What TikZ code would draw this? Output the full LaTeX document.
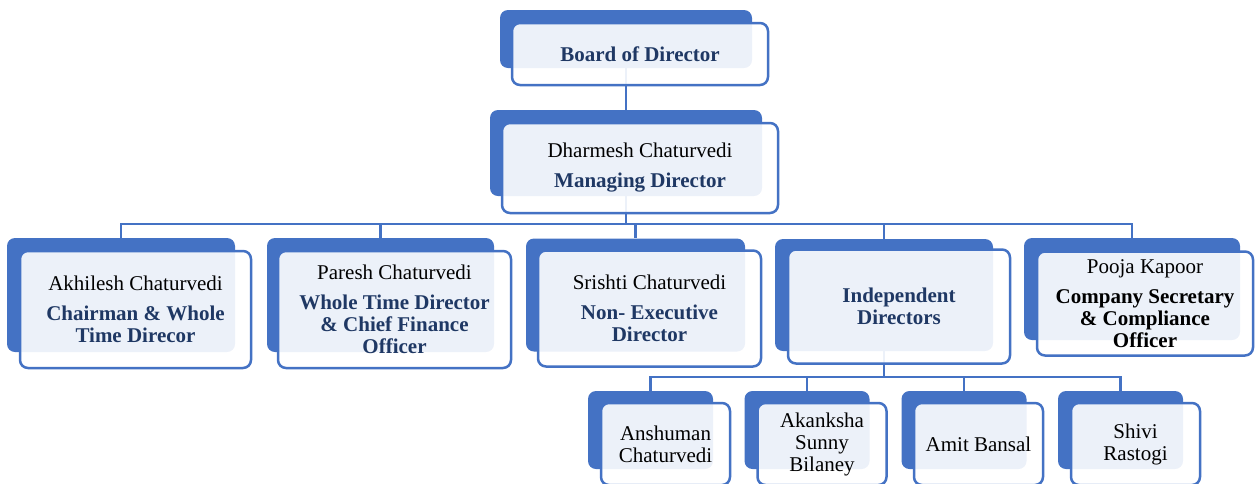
\documentclass[tikz,border=0pt]{standalone}
\usepackage{fontspec}
\setmainfont{Liberation Serif}
\usetikzlibrary{backgrounds}
\definecolor{boxblue}{HTML}{4472C4}
\definecolor{navy}{HTML}{1F3864}
\newcommand{\role}[1]{\textcolor{navy}{\textbf{#1}}}

\begin{document}
\begin{tikzpicture}[x=1pt, y=-1pt]

	\tikzstyle{back}=[rectangle, rounded corners=8pt, fill=boxblue, inner sep=0pt]
	\tikzstyle{front}=[rectangle, rounded corners=8pt, draw=boxblue, line width=2.5pt, fill=white, fill opacity=0.9, text opacity=1, inner sep=0pt, align=center, font=\fontsize{21}{22}\selectfont]
	\tikzstyle{link}=[boxblue, line width=2.5pt]

	\useasboundingbox (0, 0) rectangle (1255, 483);
	\clip (0, 0) rectangle (1255, 483);

	\coordinate (s_1_1) at (626, 39); % BOARD
	\coordinate (f_1_1) at (640, 54); % BOARD
	\coordinate (s_2_1) at (626, 153); % MD
	\coordinate (f_2_1) at (640, 168); % MD
	\coordinate (s_3_1) at (121, 295); % LEVEL 2
	\coordinate (s_3_2) at (380.5, 295); % LEVEL 2
	\coordinate (s_3_3) at (635.5, 295); % LEVEL 2
	\coordinate (s_3_4) at (884, 295); % LEVEL 2
	\coordinate (s_3_5) at (1132, 289); % LEVEL 2
	\coordinate (f_3_1) at (135.5, 309.5); % LEVEL 2
	\coordinate (f_3_2) at (394.5, 309.5); % LEVEL 2
	\coordinate (f_3_3) at (649.5, 308.5); % LEVEL 2
	\coordinate (f_3_4) at (899, 306.5); % LEVEL 2
	\coordinate (f_3_5) at (1145, 303.5); % LEVEL 2
	\coordinate (s_4_1) at (650.5, 430); % INDEPENDENT
	\coordinate (s_4_2) at (807, 430); % INDEPENDENT
	\coordinate (s_4_3) at (964, 430); % INDEPENDENT
	\coordinate (s_4_4) at (1120.5, 430); % INDEPENDENT
	\coordinate (f_4_1) at (665.5, 444); % INDEPENDENT
	\coordinate (f_4_2) at (822, 444); % INDEPENDENT
	\coordinate (f_4_3) at (978.5, 444); % INDEPENDENT
	\coordinate (f_4_4) at (1135.5, 444); % INDEPENDENT
	\coordinate (bus_1) at (626, 224);
	\coordinate (bus_2) at (884, 377);

	\node[back, minimum width=252, minimum height=58] (s_1_1) at (s_1_1) {};
	\node[front, minimum width=256, minimum height=62] (f_1_1) at (f_1_1) {\role{Board of Director}};
	\node[back, minimum width=272, minimum height=86] (s_2_1) at (s_2_1) {};
	\node[front, minimum width=276, minimum height=90] (f_2_1) at (f_2_1) {Dharmesh Chaturvedi\\[8pt]\role{Managing Director}};

	\node[back, minimum width=228, minimum height=114] (s_3_1) at (s_3_1) {};
	\node[front, minimum width=231, minimum height=117] (f_3_1) at (f_3_1) {Akhilesh Chaturvedi\\[8pt]\role{Chairman \& Whole}\\\role{Time Direcor}};
	\node[back, minimum width=227, minimum height=114] (s_3_2) at (s_3_2) {};
	\node[front, minimum width=233, minimum height=117] (f_3_2) at (f_3_2) {Paresh Chaturvedi\\[8pt]\role{Whole Time Director}\\\role{\& Chief Finance}\\\role{Officer}};
	\node[back, minimum width=219, minimum height=113] (s_3_3) at (s_3_3) {};
	\node[front, minimum width=223, minimum height=116] (f_3_3) at (f_3_3) {Srishti Chaturvedi\\[8pt]\role{Non- Executive}\\\role{Director}};
	\node[back, minimum width=218, minimum height=112] (s_3_4) at (s_3_4) {};
	\node[front, minimum width=222, minimum height=114] (f_3_4) at (f_3_4) {\role{Independent}\\\role{Directors}};
	\node[back, minimum width=216, minimum height=102] (s_3_5) at (s_3_5) {};
	\node[front, minimum width=216, minimum height=104] (f_3_5) at (f_3_5) {Pooja Kapoor\\[8pt]\textbf{Company Secretary}\\\textbf{\& Compliance}\\\textbf{Officer}};

	\node[back, minimum width=125, minimum height=78] (s_4_1) at (s_4_1) {};
	\node[front, minimum width=129, minimum height=82] (f_4_1) at (f_4_1) {Anshuman\\Chaturvedi};
	\node[back, minimum width=125, minimum height=78] (s_4_2) at (s_4_2) {};
	\node[front, minimum width=129, minimum height=82] (f_4_2) at (f_4_2) {Akanksha\\Sunny\\Bilaney};
	\node[back, minimum width=125, minimum height=78] (s_4_3) at (s_4_3) {};
	\node[front, minimum width=129, minimum height=82] (f_4_3) at (f_4_3) {Amit Bansal};
	\node[back, minimum width=125, minimum height=78] (s_4_4) at (s_4_4) {};
	\node[front, minimum width=129, minimum height=82] (f_4_4) at (f_4_4) {Shivi\\Rastogi};

	\begin{scope}[on background layer]
		\draw[link] (s_1_1) -- (s_2_1);
		\draw[link] (s_2_1) -- (bus_1);
		\foreach \i in {1,...,5} \draw[link] (bus_1) -| (s_3_\i);
		\draw[link] (s_3_4) -- (bus_2);
		\foreach \i in {1,...,4} \draw[link] (bus_2) -| (s_4_\i);
	\end{scope}
\end{tikzpicture}
\end{document}
